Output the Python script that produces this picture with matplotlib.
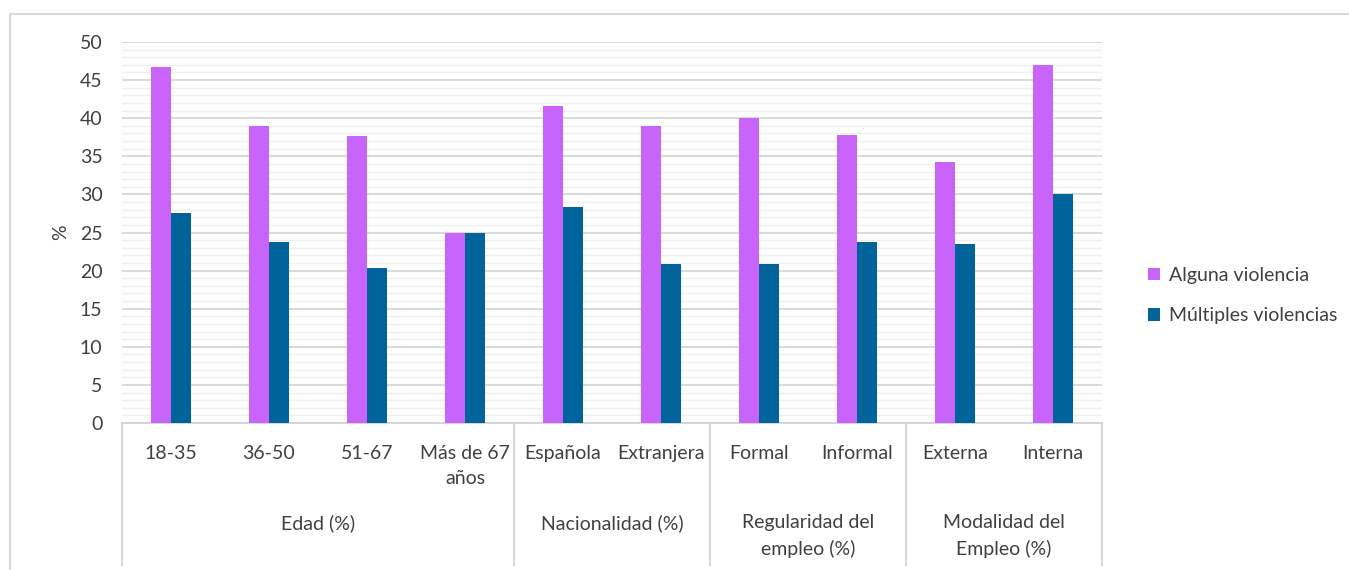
import matplotlib.pyplot as plt
import numpy as np
from matplotlib.lines import Line2D
from matplotlib.patches import Patch
from matplotlib.transforms import blended_transform_factory

plt.rcParams["font.family"] = ["Lato", "DejaVu Sans"]

categories = ["18-35", "36-50", "51-67", "Más de 67\naños", "Española", "Extranjera",
              "Formal", "Informal", "Externa", "Interna"]
groups = ["Edad (%)", "Nacionalidad (%)", "Regularidad del\nempleo (%)", "Modalidad del\nEmpleo (%)"]
group_sizes = [4, 2, 2, 2]
alguna = [46.7, 39.0, 37.6, 24.9, 41.6, 39.0, 40.0, 37.8, 34.2, 47.0]
multiples = [27.6, 23.8, 20.4, 24.9, 28.3, 20.9, 20.9, 23.8, 23.5, 30.1]
series_names = ["Alguna violencia", "Múltiples violencias"]

pink = "#C864FA"
blue = "#00649A"
text_color = "#404040"

fig = plt.figure(figsize=(13.49, 5.70), dpi=100)
ax = fig.add_axes([0.0904, 0.2579, 0.7265, 0.6684])

x = np.arange(len(categories))
w = 0.2
ax.bar(x - w / 2, alguna, width=w, color=pink, zorder=3)
ax.bar(x + w / 2, multiples, width=w, color=blue, zorder=3)

ax.set_xlim(-0.5, len(categories) - 0.5)
ax.set_ylim(0, 50)
ax.set_yticks(np.arange(0, 51, 5))
ax.set_yticks(np.arange(0, 51, 1), minor=True)
ax.grid(axis="y", which="major", color="#d9d9d9", linewidth=1.4, zorder=0)
ax.grid(axis="y", which="minor", color="#efefef", linewidth=1.0, zorder=0)
ax.tick_params(axis="y", which="both", length=0, labelsize=14, labelcolor=text_color, pad=14)
ax.tick_params(axis="x", length=0, labelbottom=False)
for side in ["left", "right", "top"]:
    ax.spines[side].set_visible(False)
ax.spines["bottom"].set_color("#d0d0d0")
ax.spines["bottom"].set_linewidth(1.2)
ax.set_ylabel("%", fontsize=14, color=text_color, labelpad=8)

# category and group labels below the axis
trans = blended_transform_factory(ax.transData, ax.transAxes)
for xi, lab in zip(x, categories):
    ax.text(xi, -0.058, lab, transform=trans, ha="center", va="top", fontsize=14,
            color=text_color, linespacing=1.55)

bounds = np.concatenate([[0], np.cumsum(group_sizes)]) - 0.5
for gi, g in enumerate(groups):
    mid = (bounds[gi] + bounds[gi + 1]) / 2
    ax.text(mid, -0.24, g, transform=trans, ha="center", va="top", fontsize=14,
            color=text_color, linespacing=1.55)
for b in bounds:
    ax.add_line(Line2D([b, b], [0, -0.373], transform=trans, color="#d0d0d0",
                       linewidth=1.2, clip_on=False))

# legend
handles = [Patch(facecolor=pink, label=series_names[0]),
           Patch(facecolor=blue, label=series_names[1])]
fig.legend(handles=handles, loc="center left", bbox_to_anchor=(0.838, 0.481),
           frameon=False, fontsize=14, handlelength=0.6, handleheight=0.6,
           handletextpad=0.5, labelspacing=1.2, labelcolor=text_color)

# chart border
fig.add_artist(Line2D([0.0074, 0.0074], [0.0, 0.975], transform=fig.transFigure,
                      color="#d9d9d9", linewidth=1.5))
fig.add_artist(Line2D([0.0074, 1.0], [0.975, 0.975], transform=fig.transFigure,
                      color="#d9d9d9", linewidth=1.5))

fig.savefig("out.png", dpi=100, facecolor="white")
